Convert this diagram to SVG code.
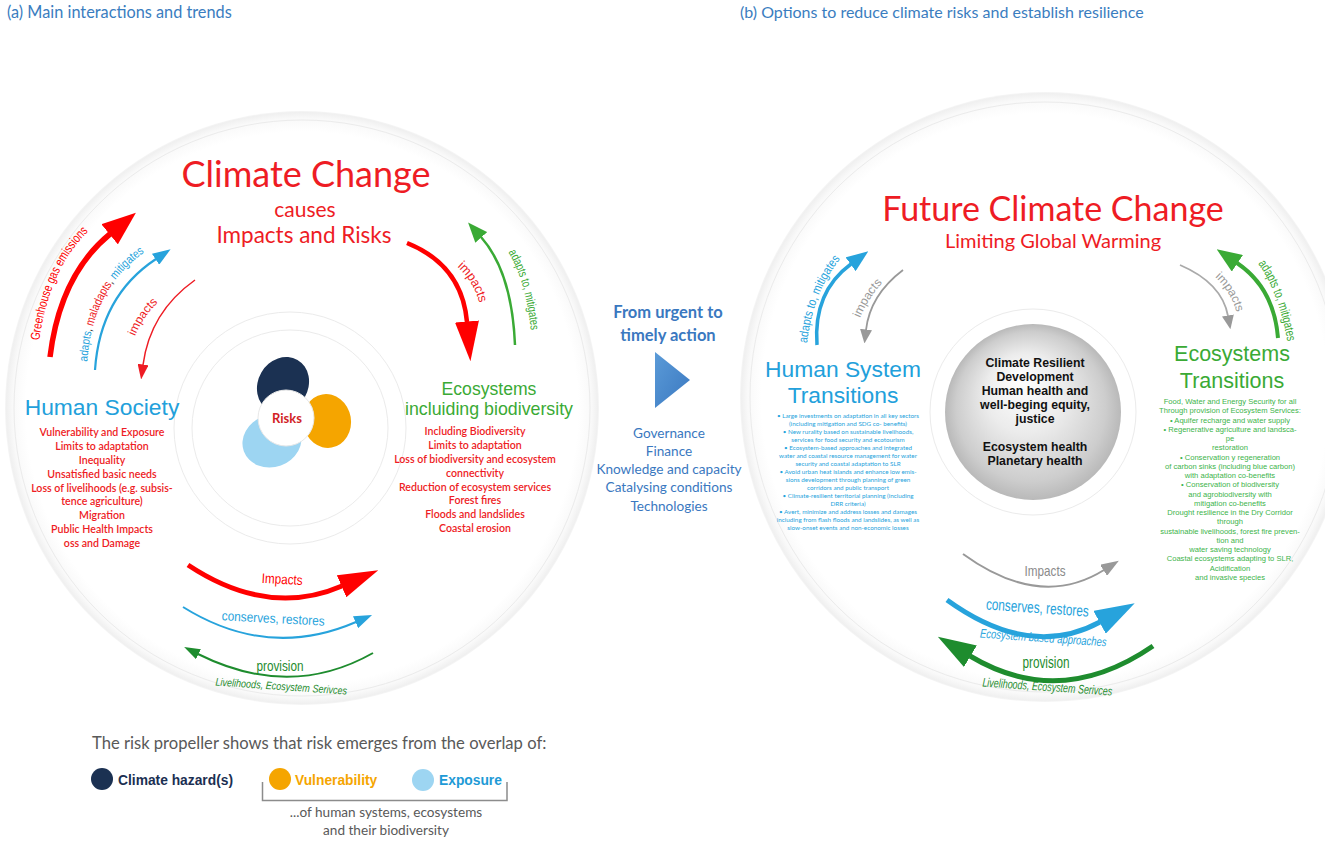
<svg xmlns="http://www.w3.org/2000/svg" width="1325" height="843" viewBox="0 0 1325 843">
<defs>
<style>
.hum{font-family:Lato,"Open Sans","Noto Sans",sans-serif}
.ar{font-family:"Liberation Sans",Arial,sans-serif}
.red{fill:#ee1c24}
.blu{fill:#22a0db}
.grn{fill:#3aaa35}
.gry{fill:#8a8a8a}
.mid{fill:#3a78c0}
.lst{font-family:Lato,"Open Sans",sans-serif;font-weight:600;font-size:10.6px;fill:#ee1c24;text-anchor:middle}
.sb{font-family:Lato,"Open Sans",sans-serif;font-size:6.3px;fill:#26a3dc;text-anchor:middle}
.sg{font-family:"Liberation Sans",Arial,sans-serif;font-size:7.6px;fill:#3cb44a;text-anchor:middle}
.sph{font-family:"Liberation Sans",Arial,sans-serif;font-weight:bold;font-size:12.3px;fill:#111;text-anchor:middle}
.ring{fill:none;stroke:#ebebeb;stroke-width:1}
.ln{fill:none;stroke-linecap:butt}
</style>
<radialGradient id="disk" cx="0.5" cy="0.5" r="0.5">
<stop offset="0" stop-color="#ffffff"/>
<stop offset="0.93" stop-color="#ffffff"/>
<stop offset="0.975" stop-color="#f9f9f9"/>
<stop offset="0.995" stop-color="#f0f0f0"/>
<stop offset="1" stop-color="#f6f6f6"/>
</radialGradient>
<radialGradient id="sphere" cx="0.5" cy="0.5" r="0.5" fx="0.42" fy="0.3">
<stop offset="0" stop-color="#ffffff"/>
<stop offset="0.45" stop-color="#ececec"/>
<stop offset="0.85" stop-color="#cdcdcd"/>
<stop offset="1" stop-color="#b9b9b9"/>
</radialGradient>
<linearGradient id="tri" x1="0" y1="0" x2="1" y2="1">
<stop offset="0" stop-color="#5b9bd8"/>
<stop offset="1" stop-color="#3a78c0"/>
</linearGradient>
<marker id="hRedL" markerUnits="userSpaceOnUse" orient="auto" markerWidth="34" markerHeight="26" refX="0.5" refY="13"><path d="M0,0 L34,13 L0,26 z" fill="#ff0000"/></marker>
<marker id="hRedXL" markerUnits="userSpaceOnUse" orient="auto" markerWidth="40" markerHeight="24" refX="0.5" refY="12"><path d="M0,0 L40,12 L0,24 z" fill="#ff0000"/></marker>
<marker id="hRedS" markerUnits="userSpaceOnUse" orient="auto" markerWidth="15" markerHeight="11" refX="0.5" refY="5.5"><path d="M0,0 L15,5.5 L0,11 z" fill="#ee1c24"/></marker>
<marker id="hBluS" markerUnits="userSpaceOnUse" orient="auto" markerWidth="18" markerHeight="13" refX="0.5" refY="6.5"><path d="M0,0 L18,6.5 L0,13 z" fill="#27a3dc"/></marker>
<marker id="hBluM" markerUnits="userSpaceOnUse" orient="auto" markerWidth="22" markerHeight="17" refX="0.5" refY="8.5"><path d="M0,0 L22,8.5 L0,17 z" fill="#27a3dc"/></marker>
<marker id="hBluL" markerUnits="userSpaceOnUse" orient="auto" markerWidth="40" markerHeight="26" refX="0.5" refY="13"><path d="M0,0 L40,13 L0,26 z" fill="#27a3dc"/></marker>
<marker id="hGrnS" markerUnits="userSpaceOnUse" orient="auto" markerWidth="16" markerHeight="11" refX="0.5" refY="5.5"><path d="M0,0 L16,5.5 L0,11 z" fill="#1e8c2e"/></marker>
<marker id="hGrnM" markerUnits="userSpaceOnUse" orient="auto" markerWidth="20" markerHeight="16" refX="0.5" refY="8"><path d="M0,0 L20,8 L0,16 z" fill="#3aaa35"/></marker>
<marker id="hGrnT" markerUnits="userSpaceOnUse" orient="auto" markerWidth="25" markerHeight="20" refX="0.5" refY="10"><path d="M0,0 L25,10 L0,20 z" fill="#3aaa35"/></marker>
<marker id="hGrnL" markerUnits="userSpaceOnUse" orient="auto" markerWidth="38" markerHeight="25" refX="0.5" refY="12.5"><path d="M0,0 L38,12.5 L0,25 z" fill="#1e8c2e"/></marker>
<marker id="hGryS" markerUnits="userSpaceOnUse" orient="auto" markerWidth="14" markerHeight="12" refX="0.5" refY="6"><path d="M0,0 L14,6 L0,12 z" fill="#999"/></marker>
<marker id="hGryM" markerUnits="userSpaceOnUse" orient="auto" markerWidth="18" markerHeight="13" refX="0.5" refY="6.5"><path d="M0,0 L18,6.5 L0,13 z" fill="#999"/></marker>
<path id="tGhg" d="M38,352 Q47,264 97,224"/>
<path id="tAdL" d="M87,366 Q91,287 148,250"/>
<path id="tImL" d="M128,360 Q138,310 178,288"/>
<path id="tImR" d="M438,255 Q478,272 484,325"/>
<path id="tAdR" d="M500,240 Q528,275 532,345"/>
<path id="tAdB" d="M806,355 Q810,290 848,250"/>
<path id="tImG1" d="M855,335 Q862,300 895,270"/>
<path id="tImG2" d="M1200,267 Q1233,283 1241,330"/>
<path id="tAdG" d="M1252,256 Q1279,286 1289,351"/>
</defs>

<rect width="1325" height="843" fill="#ffffff"/>

<g id="panel-a-background">
<circle cx="302" cy="408" r="297" fill="url(#disk)"/>
<circle cx="302" cy="408" r="288" class="ring"/>
<circle cx="290" cy="428" r="116" class="ring"/>
<circle cx="290" cy="428" r="98" class="ring"/>
</g>
<g id="panel-b-background">
<circle cx="1045" cy="397" r="305" fill="url(#disk)"/>
<circle cx="1045" cy="397" r="295" class="ring"/>
<circle cx="1033" cy="412" r="103" class="ring"/>
</g>

<g id="titles">
<text x="7" y="18" class="hum" font-size="16.3" fill="#3a7dc0">(a) Main interactions and trends</text>
<text x="740" y="18" class="hum" font-size="16" fill="#3a7dc0">(b) Options to reduce climate risks and establish resilience</text>
</g>

<g id="climate-change">
<text x="306" y="187" class="hum red" font-size="36" text-anchor="middle">Climate Change</text>
<text x="305" y="217" class="hum red" font-size="21" text-anchor="middle">causes</text>
<text x="304" y="243" class="hum red" font-size="22.5" text-anchor="middle">Impacts and Risks</text>
</g>

<g id="risk-propeller">
<ellipse cx="283" cy="385" rx="25" ry="29" transform="rotate(30 283 385)" fill="#1b3152"/>
<ellipse cx="327" cy="421" rx="24" ry="27" transform="rotate(-10 327 421)" fill="#f5a500"/>
<ellipse cx="272" cy="441" rx="30" ry="26" transform="rotate(-20 272 441)" fill="#9dd5f2"/>
<circle cx="286" cy="418" r="28" fill="#ffffff" stroke="#e8e8e8" stroke-width="1"/>
<text x="287" y="423" class="hum" font-weight="700" font-size="13" fill="#d21f26" text-anchor="middle">Risks</text>
</g>

<g id="human-society">
<text x="102" y="415" class="ar blu" font-size="22.8" text-anchor="middle">Human Society</text>
<text class="lst" x="102" y="436">Vulnerability and Exposure</text>
<text class="lst" x="102" y="450">Limits to adaptation</text>
<text class="lst" x="102" y="464">Inequality</text>
<text class="lst" x="102" y="478">Unsatisfied basic needs</text>
<text class="lst" x="102" y="492">Loss of livelihoods (e.g. subsis-</text>
<text class="lst" x="102" y="505">tence agriculture)</text>
<text class="lst" x="102" y="519">Migration</text>
<text class="lst" x="102" y="533">Public Health Impacts</text>
<text class="lst" x="102" y="547">oss and Damage</text>
</g>

<g id="ecosystems">
<text x="489" y="395" class="ar grn" font-size="17.6" text-anchor="middle">Ecosystems</text>
<text x="489" y="415" class="ar grn" font-size="17.8" text-anchor="middle">incluiding biodiversity</text>
<text class="lst" x="475" y="435">Including  Biodiversity</text>
<text class="lst" x="475" y="449">Limits to adaptation</text>
<text class="lst" x="475" y="463">Loss of biodiversity and ecosystem</text>
<text class="lst" x="475" y="477">connectivity</text>
<text class="lst" x="475" y="491">Reduction of ecosystem services</text>
<text class="lst" x="475" y="504">Forest fires</text>
<text class="lst" x="475" y="518">Floods and landslides</text>
<text class="lst" x="475" y="532">Coastal erosion</text>
</g>

<g id="transition-arrow">
<text x="668" y="318" class="hum mid" font-weight="700" font-size="16.5" text-anchor="middle">From urgent to</text>
<text x="668" y="341" class="hum mid" font-weight="700" font-size="16.5" text-anchor="middle">timely action</text>
<polygon points="655,352 690,380 655,408" fill="url(#tri)"/>
<text x="669" y="438" class="hum mid" font-size="13.6" text-anchor="middle">Governance</text>
<text x="669" y="456" class="hum mid" font-size="13.6" text-anchor="middle">Finance</text>
<text x="669" y="474" class="hum mid" font-size="13.6" text-anchor="middle">Knowledge and capacity</text>
<text x="669" y="492" class="hum mid" font-size="13.6" text-anchor="middle">Catalysing conditions</text>
<text x="669" y="511" class="hum mid" font-size="13.6" text-anchor="middle">Technologies</text>
</g>

<g id="future-climate-change">
<text x="1053" y="221" class="hum red" font-size="34" text-anchor="middle">Future Climate Change</text>
<text x="1053" y="248" class="hum red" font-size="20" text-anchor="middle">Limiting Global Warming</text>
</g>

<g id="climate-resilient-development">
<circle cx="1033" cy="412" r="88" fill="url(#sphere)"/>
<text class="sph" x="1035" y="367">Climate Resilient</text>
<text class="sph" x="1035" y="381">Development</text>
<text class="sph" x="1035" y="395">Human health and</text>
<text class="sph" x="1035" y="409">well-beging equity,</text>
<text class="sph" x="1035" y="423">justice</text>
<text class="sph" x="1035" y="451">Ecosystem health</text>
<text class="sph" x="1035" y="465">Planetary health</text>
</g>

<g id="human-system-transitions">
<text x="843" y="377" class="ar blu" font-size="22.8" text-anchor="middle">Human System</text>
<text x="843" y="403" class="ar blu" font-size="22.8" text-anchor="middle">Transitions</text>
<text class="sb" x="848" y="418">• Large investments on adaptation in all key sectors</text>
<text class="sb" x="848" y="426">(including mitigation and SDG co- benefits)</text>
<text class="sb" x="848" y="434">• New rurality based on sustainable livelihoods,</text>
<text class="sb" x="848" y="442">services for food security and ecotourism</text>
<text class="sb" x="848" y="450">• Ecosystem-based approaches and integrated</text>
<text class="sb" x="848" y="458">water and coastal resource management for water</text>
<text class="sb" x="848" y="466">security and coastal adaptation to SLR</text>
<text class="sb" x="848" y="474">• Avoid urban heat islands and enhance low emis-</text>
<text class="sb" x="848" y="482">sions development through planning of green</text>
<text class="sb" x="848" y="490">corridors and public transport</text>
<text class="sb" x="848" y="498">• Climate-resilient territorial planning (including</text>
<text class="sb" x="848" y="506">DRR criteria)</text>
<text class="sb" x="848" y="514">• Avert, minimize and address losses and damages</text>
<text class="sb" x="848" y="522">including from flash floods and landslides, as well as</text>
<text class="sb" x="848" y="530">slow-onset events and non-economic losses</text>
</g>

<g id="ecosystems-transitions">
<text x="1232" y="361" class="ar grn" font-size="21.5" text-anchor="middle">Ecosystems</text>
<text x="1232" y="388" class="ar grn" font-size="21.5" text-anchor="middle">Transitions</text>
<text class="sg" x="1230" y="404">Food, Water and Energy Security for all</text>
<text class="sg" x="1230" y="413.3">Through provision of Ecosystem Services:</text>
<text class="sg" x="1230" y="422.5">• Aquifer recharge and water supply</text>
<text class="sg" x="1230" y="431.8">• Regenerative agriculture and landsca-</text>
<text class="sg" x="1230" y="441">pe</text>
<text class="sg" x="1230" y="450.3">restoration</text>
<text class="sg" x="1230" y="459.6">• Conservation y regeneration</text>
<text class="sg" x="1230" y="468.8">of carbon sinks (including blue carbon)</text>
<text class="sg" x="1230" y="478">with adaptation co-benefits</text>
<text class="sg" x="1230" y="487.3">• Conservation of biodiversity</text>
<text class="sg" x="1230" y="496.6">and agrobiodiversity with</text>
<text class="sg" x="1230" y="505.8">mitigation co-benefits</text>
<text class="sg" x="1230" y="515">Drought resilience in the Dry Corridor</text>
<text class="sg" x="1230" y="524.3">through</text>
<text class="sg" x="1230" y="533.6">sustainable livelihoods, forest fire preven-</text>
<text class="sg" x="1230" y="542.8">tion and</text>
<text class="sg" x="1230" y="552">water saving technology</text>
<text class="sg" x="1230" y="561.3">Coastal ecosystems adapting to SLR,</text>
<text class="sg" x="1230" y="570.6">Acidification</text>
<text class="sg" x="1230" y="579.8">and invasive species</text>
</g>

<g id="connectors">
<path class="ln" d="M50,357 Q60,275 110,234" stroke="#ff0000" stroke-width="5.5" marker-end="url(#hRedL)"/>
<path class="ln" d="M95,370 Q100,296 156,259" stroke="#27a3dc" stroke-width="2.2" marker-end="url(#hBluS)"/>
<path class="ln" d="M195,280 Q150,312 143,365" stroke="#ee1c24" stroke-width="1.5" marker-end="url(#hRedS)"/>
<path class="ln" d="M407,243 Q462,265 467,322" stroke="#ff0000" stroke-width="4.5" marker-end="url(#hRedXL)"/>
<path class="ln" d="M515,345 Q512,272 481,237" stroke="#3aaa35" stroke-width="2.5" marker-end="url(#hGrnM)"/>
<path class="ln" d="M188,565 Q268,618 342,586" stroke="#ff0000" stroke-width="5" marker-end="url(#hRedXL)"/>
<path class="ln" d="M183,607 Q268,660 356,622" stroke="#27a3dc" stroke-width="2" marker-end="url(#hBluS)"/>
<path class="ln" d="M373,653 Q290,700 198,654" stroke="#1e8c2e" stroke-width="2" marker-end="url(#hGrnS)"/>
<path class="ln" d="M817,345 Q813,292 851,264" stroke="#27a3dc" stroke-width="3.5" marker-end="url(#hBluM)"/>
<path class="ln" d="M903,270 Q870,295 866,330" stroke="#999" stroke-width="1.8" marker-end="url(#hGryS)"/>
<path class="ln" d="M1180,265 Q1222,283 1228,316" stroke="#aaa" stroke-width="1.8" marker-end="url(#hGryS)"/>
<path class="ln" d="M1278,338 Q1274,288 1237,263" stroke="#3aaa35" stroke-width="4" marker-end="url(#hGrnT)"/>
<path class="ln" d="M963,554 Q1040,610 1104,570" stroke="#999" stroke-width="2" marker-end="url(#hGryM)"/>
<path class="ln" d="M947,600 Q1030,660 1100,622" stroke="#27a3dc" stroke-width="5" marker-end="url(#hBluL)"/>
<path class="ln" d="M1153,646 Q1060,710 970,656" stroke="#1e8c2e" stroke-width="5" marker-end="url(#hGrnL)"/>

<text class="ar" font-size="13" fill="#ff0000"><textPath href="#tGhg" startOffset="50%" text-anchor="middle" textLength="122" lengthAdjust="spacingAndGlyphs">Greenhouse gas emissions</textPath></text>
<text class="ar" font-size="12"><textPath href="#tAdL" startOffset="50%" text-anchor="middle" textLength="128" lengthAdjust="spacingAndGlyphs"><tspan fill="#27a3dc">adapts</tspan><tspan fill="#333">, </tspan><tspan fill="#ee1c24">maladapts</tspan><tspan fill="#333">, </tspan><tspan fill="#27a3dc">mitigates</tspan></textPath></text>
<text class="ar" font-size="12" fill="#ee1c24"><textPath href="#tImL" startOffset="50%" text-anchor="middle" textLength="41" lengthAdjust="spacingAndGlyphs">impacts</textPath></text>
<text class="ar" font-size="13" fill="#ee1c24"><textPath href="#tImR" startOffset="50%" text-anchor="middle" textLength="43" lengthAdjust="spacingAndGlyphs">impacts</textPath></text>
<text class="ar" font-size="12.5" fill="#3aaa35"><textPath href="#tAdR" startOffset="50%" text-anchor="middle" textLength="82" lengthAdjust="spacingAndGlyphs">adapts to, mitigates</textPath></text>
<text class="ar" font-size="12.5" fill="#27a3dc"><textPath href="#tAdB" startOffset="50%" text-anchor="middle" textLength="92" lengthAdjust="spacingAndGlyphs">adapts to,  mitigates</textPath></text>
<text class="ar" font-size="12" fill="#999"><textPath href="#tImG1" startOffset="50%" text-anchor="middle" textLength="42" lengthAdjust="spacingAndGlyphs">impacts</textPath></text>
<text class="ar" font-size="12" fill="#999"><textPath href="#tImG2" startOffset="50%" text-anchor="middle" textLength="42" lengthAdjust="spacingAndGlyphs">impacts</textPath></text>
<text class="ar" font-size="13" fill="#3aaa35"><textPath href="#tAdG" startOffset="50%" text-anchor="middle" textLength="84" lengthAdjust="spacingAndGlyphs">adapts to, mitigates</textPath></text>

<text x="282" y="584" class="ar" font-size="14" fill="#ff0000" text-anchor="middle" textLength="41" lengthAdjust="spacingAndGlyphs" transform="rotate(3 282 584)">Impacts</text>
<text x="273" y="623" class="ar" font-size="13.5" fill="#27a3dc" text-anchor="middle" textLength="103" lengthAdjust="spacingAndGlyphs" transform="rotate(3 273 623)">conserves, restores</text>
<text x="280" y="671" class="ar" font-size="14" fill="#1e8c2e" text-anchor="middle" textLength="47" lengthAdjust="spacingAndGlyphs">provision</text>
<text x="281" y="690" class="ar" font-size="11" font-style="italic" fill="#1e8c2e" text-anchor="middle" textLength="132" lengthAdjust="spacingAndGlyphs" transform="rotate(4 281 690)">Livelihoods, Ecosystem Serivces</text>

<text x="1045" y="576" class="ar" font-size="15" fill="#8a8a8a" text-anchor="middle" textLength="41" lengthAdjust="spacingAndGlyphs">Impacts</text>
<text x="1037" y="613" class="ar" font-size="16" fill="#27a3dc" text-anchor="middle" textLength="103" lengthAdjust="spacingAndGlyphs" transform="rotate(4 1037 613)">conserves, restores</text>
<text x="1043" y="642" class="ar" font-size="12.5" font-style="italic" fill="#27a3dc" text-anchor="middle" textLength="127" lengthAdjust="spacingAndGlyphs" transform="rotate(4 1043 642)">Ecosystem based approaches</text>
<text x="1046" y="668" class="ar" font-size="16" fill="#1e8c2e" text-anchor="middle" textLength="47" lengthAdjust="spacingAndGlyphs">provision</text>
<text x="1047" y="691" class="ar" font-size="12.5" font-style="italic" fill="#1e8c2e" text-anchor="middle" textLength="130" lengthAdjust="spacingAndGlyphs" transform="rotate(4 1047 691)">Livelihoods, Ecosystem Serivces</text>
</g>

<g id="legend">
<text x="92" y="749" class="hum" font-size="16.6" fill="#595959">The risk propeller shows that risk emerges from the overlap of:</text>
<circle cx="102" cy="779" r="11" fill="#1b3152"/>
<text x="118" y="785" class="ar" font-weight="bold" font-size="13.8" fill="#1b2f52">Climate hazard(s)</text>
<circle cx="280" cy="779" r="11" fill="#f5a500"/>
<text x="295" y="785" class="ar" font-weight="bold" font-size="13.8" fill="#f5a500">Vulnerability</text>
<circle cx="423" cy="780" r="11" fill="#9dd5f2"/>
<text x="439" y="785" class="ar" font-weight="bold" font-size="13.8" fill="#1e9ad6">Exposure</text>
<path d="M262.5,782 V800.5 H507 V782" fill="none" stroke="#8c8c8c" stroke-width="1.5"/>
<text x="386" y="817" class="hum" font-size="13.6" fill="#595959" text-anchor="middle">...of human systems, ecosystems</text>
<text x="386" y="835" class="hum" font-size="13.6" fill="#595959" text-anchor="middle">and their biodiversity</text>
</g>
</svg>
